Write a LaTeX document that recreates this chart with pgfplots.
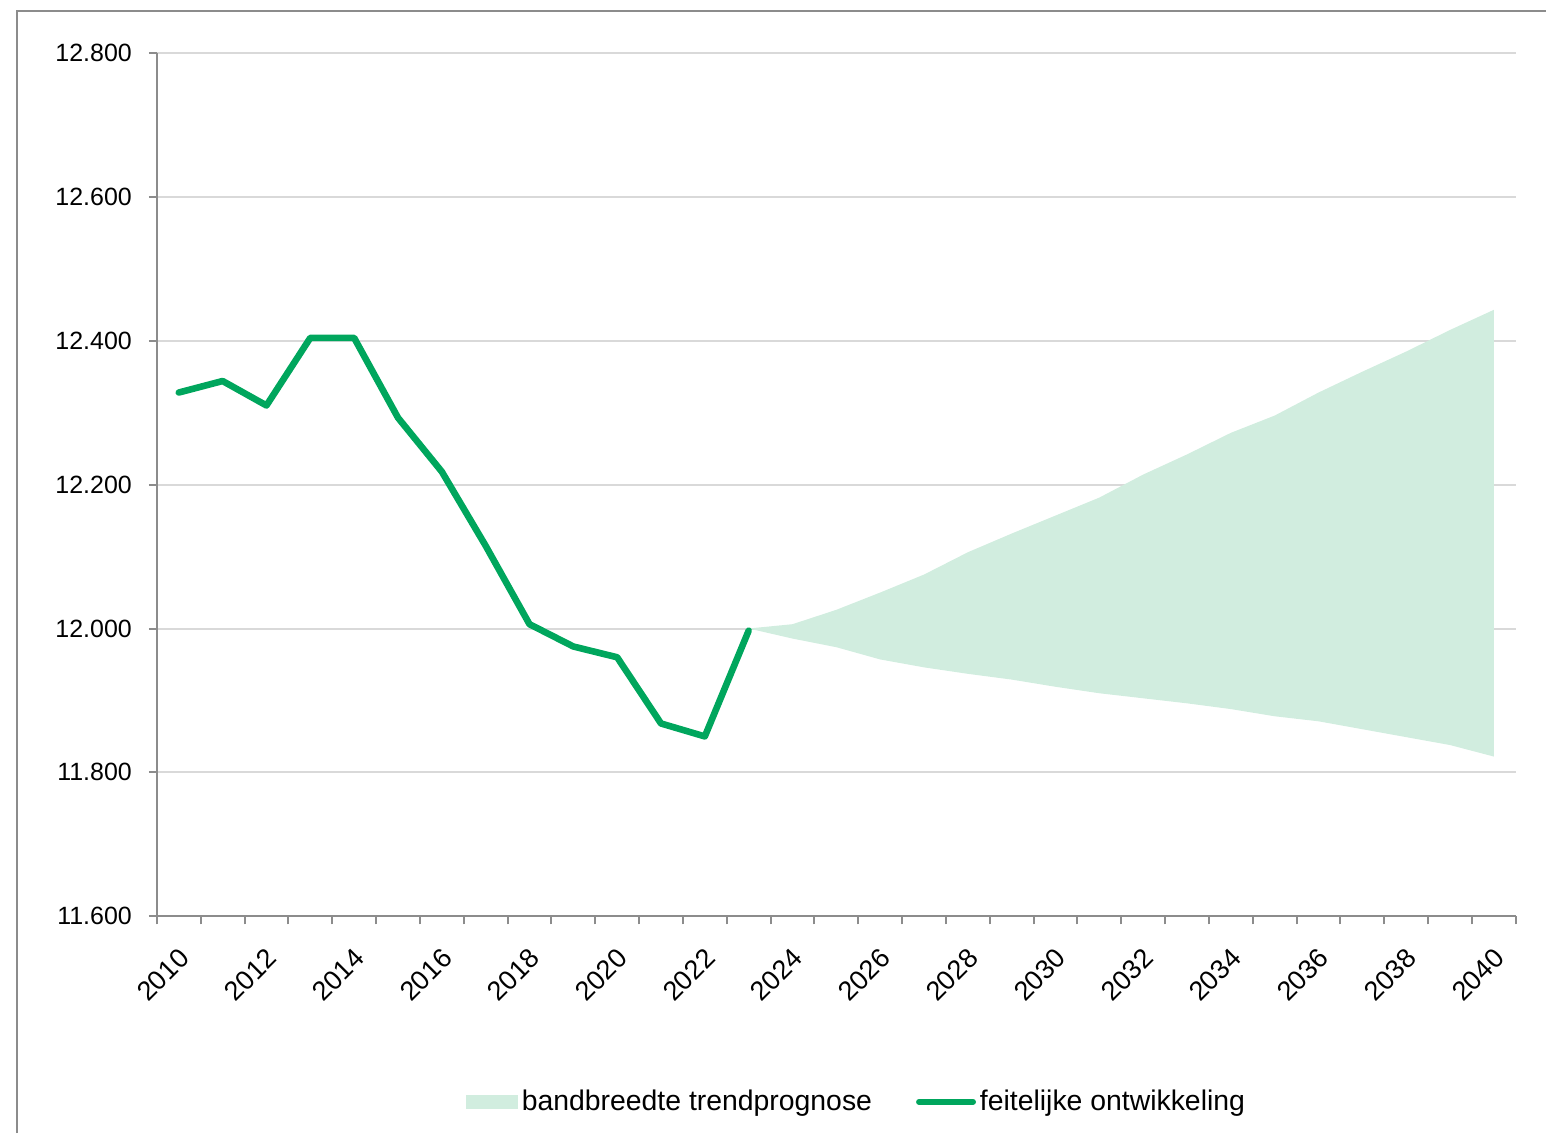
\documentclass[border=0pt]{standalone}
\usepackage{fontspec}
\setmainfont{Liberation Sans}
\usepackage{pgfplots}
\pgfplotsset{compat=1.18}
\usepgfplotslibrary{fillbetween}
\definecolor{lijn}{HTML}{00A65D}
\definecolor{band}{HTML}{D1EDDF}
\definecolor{asgrijs}{HTML}{8C8C8C}
\definecolor{rooster}{HTML}{D9D9D9}
\begin{document}
\begin{tikzpicture}
\begin{axis}[
    scale only axis, width=680pt, height=432pt,
    xmin=2009.5, xmax=2040.5, ymin=11600, ymax=12800,
    axis lines=left, axis line style={asgrijs, line width=1pt, -},
    xtick={2010,2012,...,2040}, major x tick style={draw=none},
    minor xtick={2009.5,2010.5,...,2040.5},
    minor x tick style={asgrijs, line width=1pt},
    minor tick length=4pt,
    ytick={11600,11800,...,12800},
    major y tick style={asgrijs, line width=1pt}, major tick length=4pt,
    tick align=outside,
    scaled y ticks=false,
    ymajorgrids, grid style={rooster, line width=1pt},
    xticklabel style={rotate=45, anchor=north east, font=\fontsize{13.5}{15}\selectfont, xshift=-5pt, yshift=-4pt,
        /pgf/number format/1000 sep={}},
    yticklabel style={font=\fontsize{12.5}{14}\selectfont, xshift=-5pt,
        /pgf/number format/1000 sep={.}, /pgf/number format/fixed, /pgf/number format/precision=0},
    /pgf/number format/assume math mode=true,
    legend style={at={(0.5155,-0.215)}, anchor=center, draw=none, font=\fontsize{14.2}{16}\selectfont,
        legend columns=2, /tikz/every even column/.append style={column sep=20pt}},
    legend cell align=left,
]
\addplot[name path=boven, draw=none, forget plot] coordinates {
(2023,12000)(2024,12006)(2025,12026)(2026,12050)(2027,12075)(2028,12106)(2029,12132)
(2030,12157)(2031,12182)(2032,12214)(2033,12242)(2034,12272)(2035,12296)(2036,12328)
(2037,12357)(2038,12385)(2039,12415)(2040,12443)
};
\addplot[name path=onder, draw=none, forget plot] coordinates {
(2023,12000)(2024,11986)(2025,11974)(2026,11957)(2027,11946)(2028,11937)(2029,11929)
(2030,11919)(2031,11910)(2032,11903)(2033,11896)(2034,11888)(2035,11878)(2036,11871)
(2037,11860)(2038,11849)(2039,11838)(2040,11822)
};
\addplot[fill=band, draw=none,
    legend image code/.code={\fill[band] (0pt,-3.5pt) rectangle (26pt,3.5pt);}]
    fill between[of=boven and onder];
\addlegendentry{bandbreedte trendprognose}
\addplot[lijn, line width=3.3pt, line join=round, line cap=round,
    legend image code/.code={\draw[lijn, line width=3pt, line cap=round] (1pt,0pt) -- (28pt,0pt);}] coordinates {
(2010,12328)(2011,12344)(2012,12310)(2013,12404)(2014,12404)(2015,12293)(2016,12218)
(2017,12115)(2018,12006)(2019,11975)(2020,11960)(2021,11868)(2022,11850)(2023,11997)
};
\addlegendentry{feitelijke ontwikkeling}
\end{axis}
\pgfresetboundingbox
\path (-78.5pt,-108.5pt) rectangle (695pt,458.5pt);
\draw[asgrijs, line width=1.2pt] (-70pt,-108.5pt) -- (-70pt,453pt) -- (695pt,453pt);
\end{tikzpicture}
\end{document}
